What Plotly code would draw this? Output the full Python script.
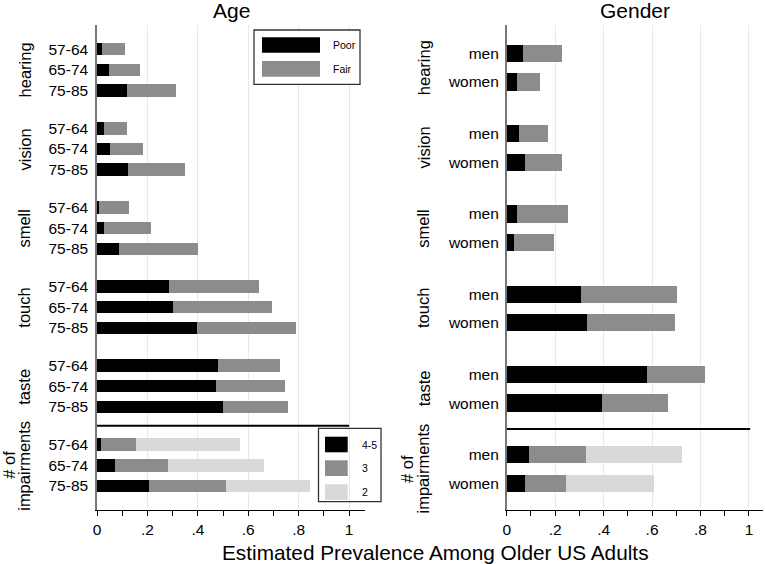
import plotly.graph_objects as go

# ---------------- data ----------------
senses = ["hearing", "vision", "smell", "touch", "taste"]
age_groups = ["57-64", "65-74", "75-85"]
genders = ["men", "women"]

# Age panel (order: senses x age groups)
age_poor = [0.018, 0.048, 0.119,
            0.029, 0.053, 0.124,
            0.009, 0.028, 0.089,
            0.287, 0.300, 0.396,
            0.480, 0.472, 0.498]
age_fair = [0.094, 0.121, 0.195,
            0.090, 0.129, 0.227,
            0.119, 0.186, 0.311,
            0.354, 0.396, 0.393,
            0.247, 0.274, 0.258]
age_imp_45 = [0.016, 0.071, 0.207]
age_imp_3 = [0.139, 0.209, 0.304]
age_imp_2 = [0.412, 0.382, 0.332]

# Gender panel (order: senses x gender)
gen_poor = [0.067, 0.041,
            0.048, 0.074,
            0.043, 0.029,
            0.307, 0.330,
            0.576, 0.392]
gen_fair = [0.160, 0.097,
            0.123, 0.152,
            0.210, 0.166,
            0.393, 0.362,
            0.242, 0.272]
gen_imp_45 = [0.091, 0.073]
gen_imp_3 = [0.235, 0.169]
gen_imp_2 = [0.398, 0.365]

tick_vals = [0, 0.2, 0.4, 0.6, 0.8, 1.0]
tick_text = ["0", ".2", ".4", ".6", ".8", "1"]

# ---------------- layout helpers ----------------
W, H = 765, 564
FONT = "Liberation Sans, Arial, sans-serif"
BLACK, GRAY, LIGHT = "#000000", "#8c8c8c", "#d9d9d9"


def PX(x):
    return x / W


def PY(y):
    return 1 - y / H


def positions(n_per_group, n_groups, gap):
    pos = []
    for k in range(n_groups):
        pos.append([k * (n_per_group + gap) + j for j in range(n_per_group)])
    return pos


age_pos = positions(len(age_groups), len(senses) + 1, 0.82)
gen_pos = positions(len(genders), len(senses) + 1, 0.80)

age_sense_y = [p for grp in age_pos[:5] for p in grp]
age_imp_y = age_pos[5]
gen_sense_y = [p for grp in gen_pos[:5] for p in grp]
gen_imp_y = gen_pos[5]

fig = go.Figure()


def add_bar(x, y, color, xa, ya, name):
    fig.add_trace(go.Bar(x=x, y=y, orientation="h", marker=dict(color=color, line=dict(width=0)),
                         width=0.6, xaxis=xa, yaxis=ya, name=name, showlegend=False,
                         hoverinfo="x+name"))


add_bar(age_poor, age_sense_y, BLACK, "x", "y", "Poor")
add_bar(age_fair, age_sense_y, GRAY, "x", "y", "Fair")
add_bar(age_imp_45, age_imp_y, BLACK, "x", "y", "4-5")
add_bar(age_imp_3, age_imp_y, GRAY, "x", "y", "3")
add_bar(age_imp_2, age_imp_y, LIGHT, "x", "y", "2")

add_bar(gen_poor, gen_sense_y, BLACK, "x2", "y2", "Poor")
add_bar(gen_fair, gen_sense_y, GRAY, "x2", "y2", "Fair")
add_bar(gen_imp_45, gen_imp_y, BLACK, "x2", "y2", "4-5")
add_bar(gen_imp_3, gen_imp_y, GRAY, "x2", "y2", "3")
add_bar(gen_imp_2, gen_imp_y, LIGHT, "x2", "y2", "2")

plot_top, plot_bot = 25, 510
ydom = [PY(plot_bot), PY(plot_top)]

xaxis_common = dict(
    tickmode="array", tickvals=tick_vals, ticktext=tick_text,
    ticks="outside", ticklen=5, tickwidth=1, tickcolor="black",
    showline=True, linecolor="black", linewidth=1.2,
    showgrid=True, gridcolor="#e8e8e8", gridwidth=1,
    zeroline=False, automargin=False,
    minor=dict(tickmode="linear", tick0=0, dtick=0.1, ticks="outside", ticklen=5,
               tickcolor="black", showgrid=False),
    tickfont=dict(family=FONT, size=15.5, color="black"),
    fixedrange=True,
)

yaxis_common = dict(
    tickmode="array", ticks="", showline=True, linecolor="#777777", linewidth=1.5,
    showgrid=False, zeroline=False, automargin=False,
    tickfont=dict(family=FONT, size=15.5, color="black"),
    fixedrange=True, domain=ydom,
)

age_ticks_y = [p for grp in age_pos for p in grp]
age_ticks_t = age_groups * (len(senses) + 1)
gen_ticks_y = [p for grp in gen_pos for p in grp]
gen_ticks_t = genders * (len(senses) + 1)

fig.update_layout(
    template="none",
    width=W, height=H, margin=dict(l=0, r=0, t=0, b=0, pad=0),
    paper_bgcolor="white", plot_bgcolor="white",
    barmode="stack", bargap=0, showlegend=False,
    font=dict(family=FONT, color="black"),
    xaxis=dict(domain=[PX(97), PX(365)], range=[0, 1.063], anchor="y", **xaxis_common),
    xaxis2=dict(domain=[PX(506.7), PX(763)], range=[0, 1.058], anchor="y2", **xaxis_common),
    yaxis=dict(anchor="x", range=[age_pos[-1][-1] + 1.16, -1.17], ticklabelstandoff=4,
               tickvals=age_ticks_y, ticktext=age_ticks_t, **yaxis_common),
    yaxis2=dict(anchor="x2", range=[gen_pos[-1][-1] + 0.93, -0.99], ticklabelstandoff=3,
                tickvals=gen_ticks_y, ticktext=gen_ticks_t, **yaxis_common),
)

ann = []
shapes = []

# panel titles
ann.append(dict(text="Age", x=PX(231), y=PY(10.5), xref="paper", yref="paper", showarrow=False,
                xanchor="center", yanchor="middle", font=dict(family=FONT, size=21)))
ann.append(dict(text="Gender", x=PX(635), y=PY(10.5), xref="paper", yref="paper", showarrow=False,
                xanchor="center", yanchor="middle", font=dict(family=FONT, size=21)))
ann.append(dict(text="Estimated Prevalence Among Older US Adults", x=PX(435), y=PY(552),
                xref="paper", yref="paper", showarrow=False, xanchor="center", yanchor="middle",
                font=dict(family=FONT, size=20.8)))

# group labels
for k, s in enumerate(senses):
    ca = sum(age_pos[k]) / len(age_pos[k])
    ann.append(dict(text=s, x=PX(24.5), y=ca, xref="paper", yref="y", textangle=-90,
                    showarrow=False, xanchor="center", yanchor="middle",
                    font=dict(family=FONT, size=16.5)))
    cg = sum(gen_pos[k]) / len(gen_pos[k])
    ann.append(dict(text=s, x=PX(423.5), y=cg, xref="paper", yref="y2", textangle=-90,
                    showarrow=False, xanchor="center", yanchor="middle",
                    font=dict(family=FONT, size=16.5)))

ca = sum(age_pos[5]) / 3
cg = sum(gen_pos[5]) / 2
for txt, xl, xr in [("# of", 9.5, 407), ("impairments", 24.5, 423.5)]:
    ann.append(dict(text=txt, x=PX(xl), y=ca, xref="paper", yref="y", textangle=-90,
                    showarrow=False, xanchor="center", yanchor="middle",
                    font=dict(family=FONT, size=16.5)))
    ann.append(dict(text=txt, x=PX(xr), y=cg, xref="paper", yref="y2", textangle=-90,
                    showarrow=False, xanchor="center", yanchor="middle",
                    font=dict(family=FONT, size=16.5)))

# separator lines between senses and # of impairments
sep_a = (age_pos[4][-1] + age_pos[5][0]) / 2
sep_g = (gen_pos[4][-1] + gen_pos[5][0]) / 2
shapes.append(dict(type="line", xref="x", yref="y", x0=0, x1=1.0, y0=sep_a, y1=sep_a,
                   line=dict(color="black", width=2)))
shapes.append(dict(type="line", xref="x2", yref="y2", x0=0, x1=1.005, y0=sep_g, y1=sep_g,
                   line=dict(color="black", width=2)))


def rect(x0, y0, x1, y1, fill, line_color=None, lw=0):
    d = dict(type="rect", xref="paper", yref="paper", x0=PX(x0), x1=PX(x1), y0=PY(y1), y1=PY(y0),
             fillcolor=fill, layer="above")
    d["line"] = dict(color=line_color or fill, width=lw)
    return d


# legend 1 (Poor / Fair)
shapes.append(rect(254, 30, 360, 84.3, "white", "#333333", 1.3))
shapes.append(rect(262, 37.3, 320, 52.7, BLACK))
shapes.append(rect(262, 61, 320, 76.7, GRAY))
for txt, yy in [("Poor", 45), ("Fair", 69)]:
    ann.append(dict(text=txt, x=PX(331), y=PY(yy), xref="paper", yref="paper", showarrow=False,
                    xanchor="left", yanchor="middle", font=dict(family=FONT, size=10.5)))

# legend 2 (# of impairments)
shapes.append(rect(318.5, 428.3, 381, 501.7, "rgba(0,0,0,0)", "#333333", 1.3))
shapes.append(rect(325, 436.7, 347.7, 452.3, BLACK))
shapes.append(rect(325, 460.3, 347.7, 476, GRAY))
shapes.append(rect(325, 484.3, 347.7, 500, LIGHT))
for txt, yy in [("4-5", 444.5), ("3", 468), ("2", 492)]:
    ann.append(dict(text=txt, x=PX(360), y=PY(yy), xref="paper", yref="paper", showarrow=False,
                    xanchor="left", yanchor="middle", font=dict(family=FONT, size=10.5)))

fig.update_layout(annotations=ann, shapes=shapes)

fig.write_html("out.html", config={"displayModeBar": False},
               post_script="document.body.style.margin='0';")
